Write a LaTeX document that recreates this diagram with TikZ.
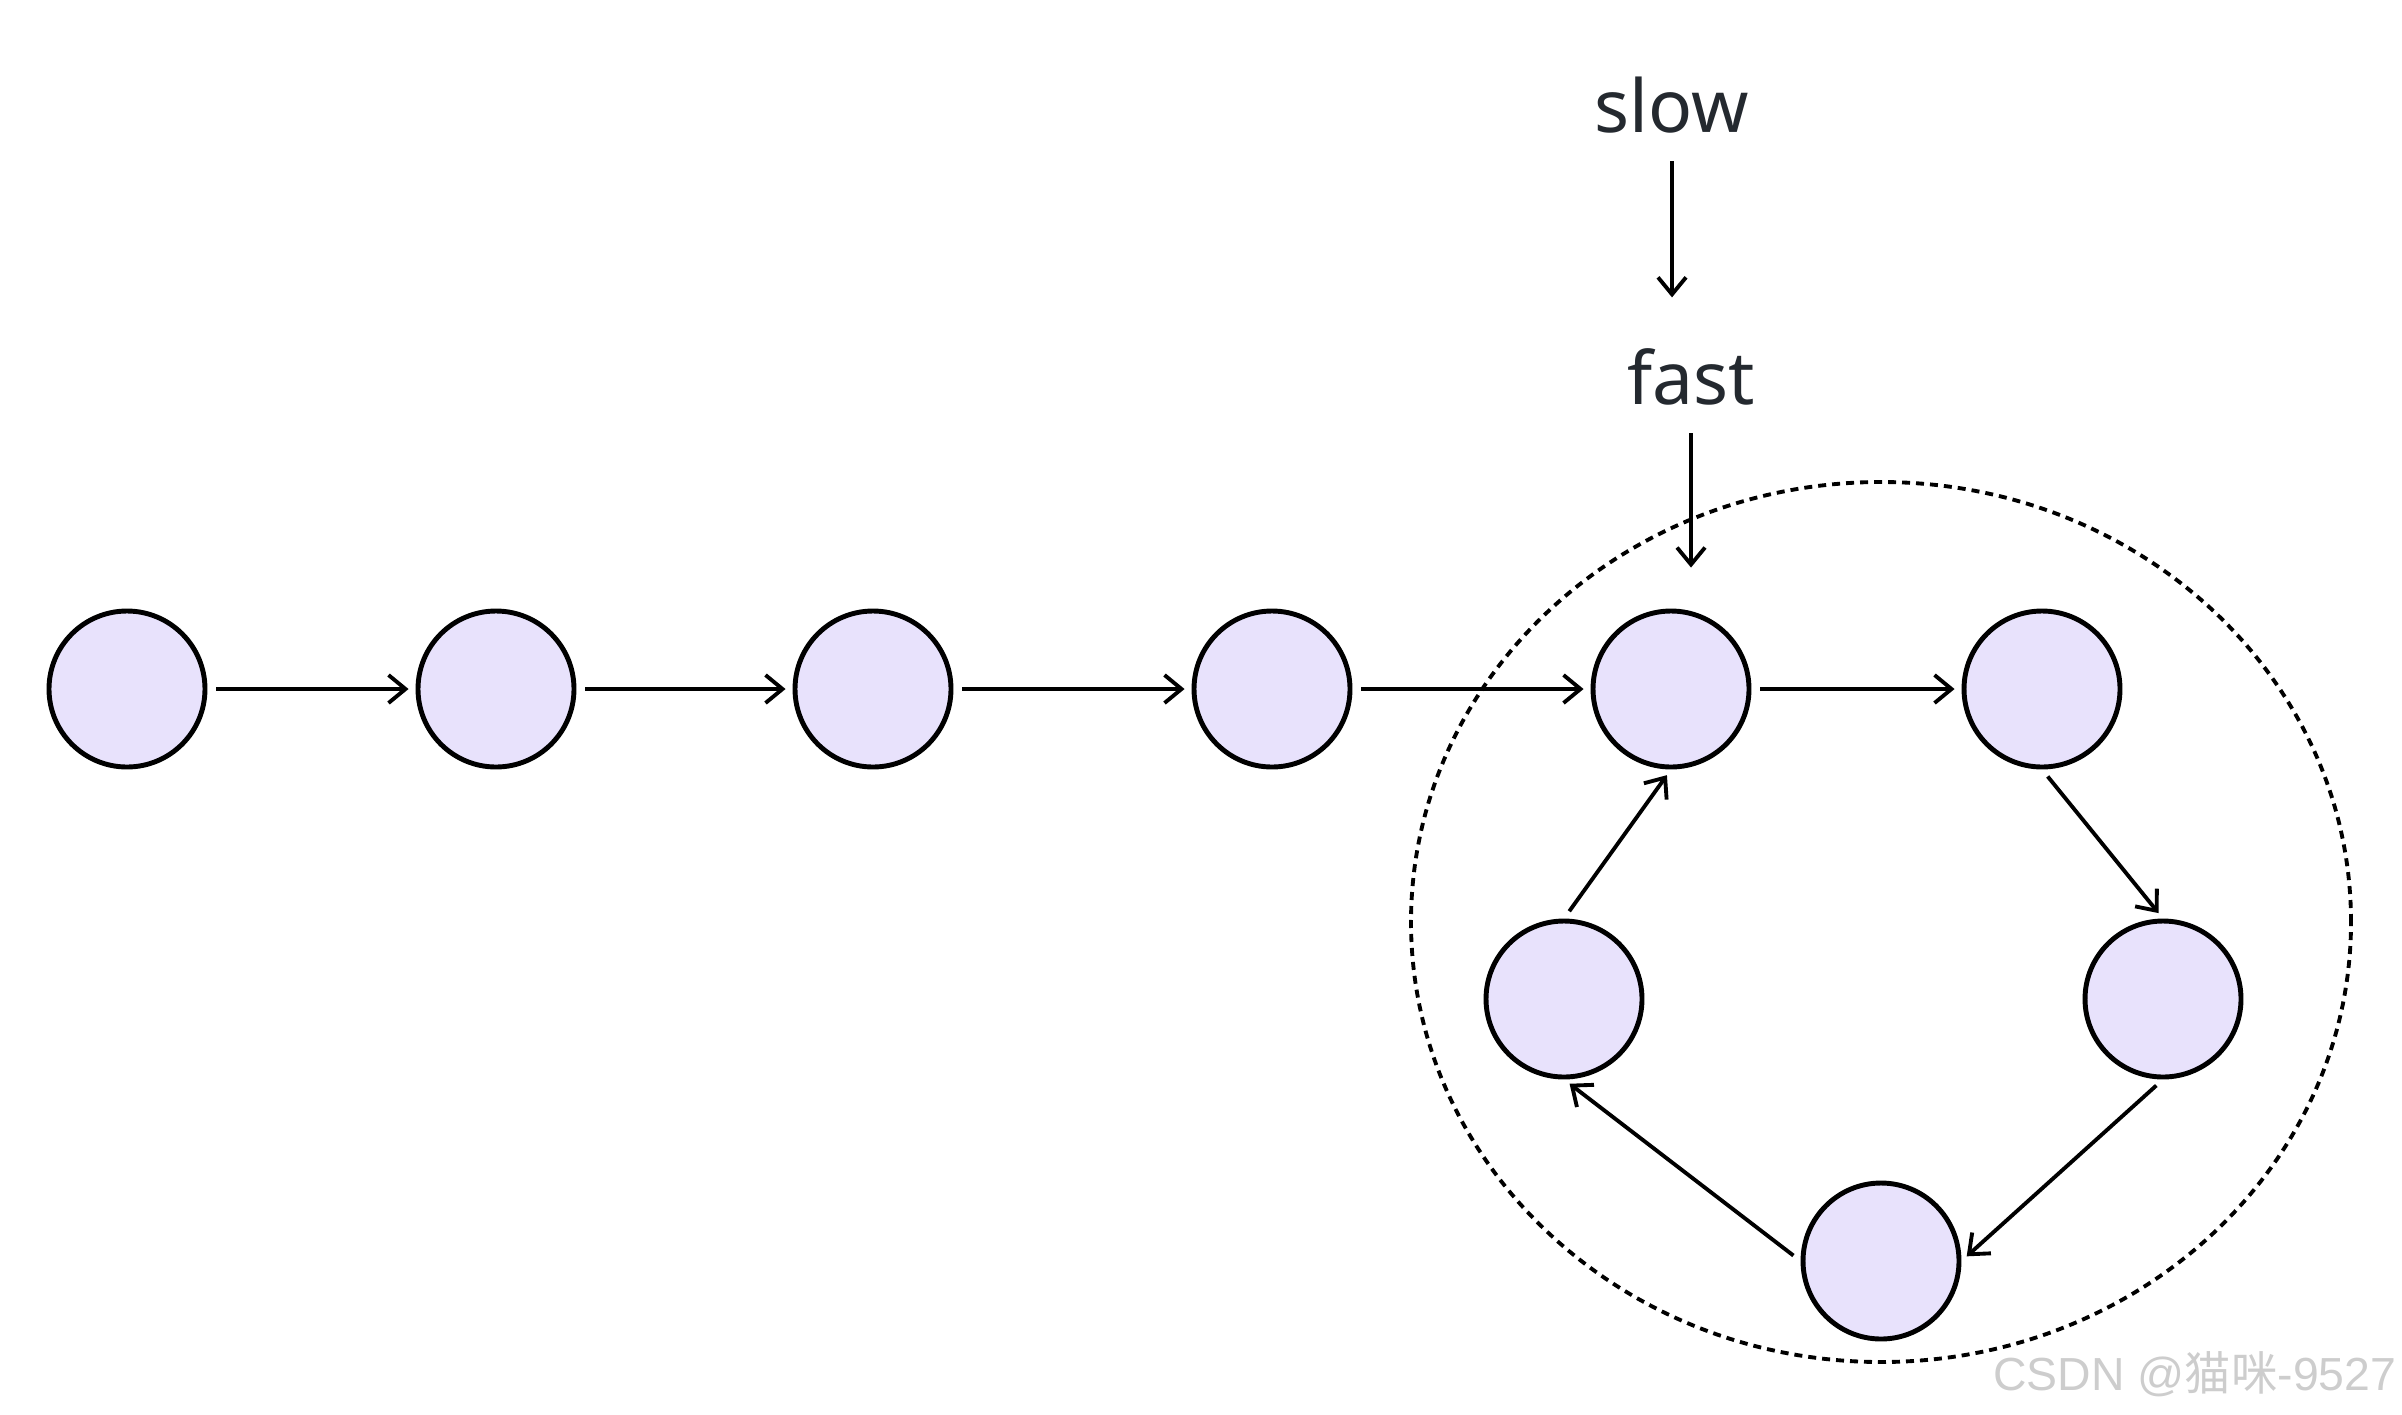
\documentclass[tikz,border=0pt]{standalone}
\usepackage{fontspec}
\setmainfont{Noto Sans}
\newfontfamily\wmlatin{Liberation Sans}
\newfontfamily\wmcjk{Noto Sans CJK SC}
\usetikzlibrary{arrows.meta}
\definecolor{ink}{RGB}{36,41,47}
\definecolor{nodefill}{RGB}{232,226,252}
\definecolor{wmgray}{RGB}{205,205,205}

\begin{document}
\begin{tikzpicture}[
	elem/.style={circle, draw, line width=1.4pt, fill=nodefill, minimum size=1.56cm, inner sep=0pt},
	link/.style={-{Straight Barb[length=1.7mm,width=2.8mm]}, line width=1.1pt, shorten <=0.09cm, shorten >=0.07cm},
	word/.style={text=ink, inner sep=0pt, anchor=base, font=\fontsize{20.8}{25}\selectfont}]
	\useasboundingbox (0,0) rectangle (24.02,-14.14);
	% the loop
	\draw[dash pattern=on 0.08cm off 0.06cm, line width=1.1pt] (18.81,-9.22) ellipse [x radius=4.70, y radius=4.40];
	% list nodes
	\node[elem] (n1) at (1.27,-6.89) {};
	\node[elem] (n2) at (4.96,-6.89) {};
	\node[elem] (n3) at (8.73,-6.89) {};
	\node[elem] (n4) at (12.72,-6.89) {};
	\node[elem] (n5) at (16.71,-6.89) {};
	\node[elem] (n6) at (20.42,-6.89) {};
	\node[elem] (n7) at (21.63,-9.99) {};
	\node[elem] (n8) at (18.81,-12.61) {};
	\node[elem] (n9) at (15.64,-9.99) {};
	\draw[link] (n1) -- (n2);
	\draw[link] (n2) -- (n3);
	\draw[link] (n3) -- (n4);
	\draw[link] (n4) -- (n5);
	\draw[link] (n5) -- (n6);
	\draw[link] (n6.south) -- (n7.north);
	\draw[link] (n7.south) -- (n8.east);
	\draw[link] (n8.west) -- (n9.south);
	\draw[link] (n9.north) -- (n5.south);
	% pointers
	\node[word] (slow) at (16.72,-1.32) {slow};
	\node[word] (fast) at (16.91,-4.04) {fast};
	\draw[link, shorten <=0.28cm, shorten >=0.5cm] (slow.south) -- (slow.south |- fast.north);
	\draw[link, shorten <=0.28cm, shorten >=0.41cm] (fast.south) -- (fast.south |- n5.north);
	\node[anchor=base east, text=wmgray, inner sep=0pt, font=\wmlatin\fontsize{13.2}{15}\selectfont] (wm) at (23.97,-13.90) {CSDN @{\wmcjk 猫咪}-9527};
\end{tikzpicture}
\end{document}
